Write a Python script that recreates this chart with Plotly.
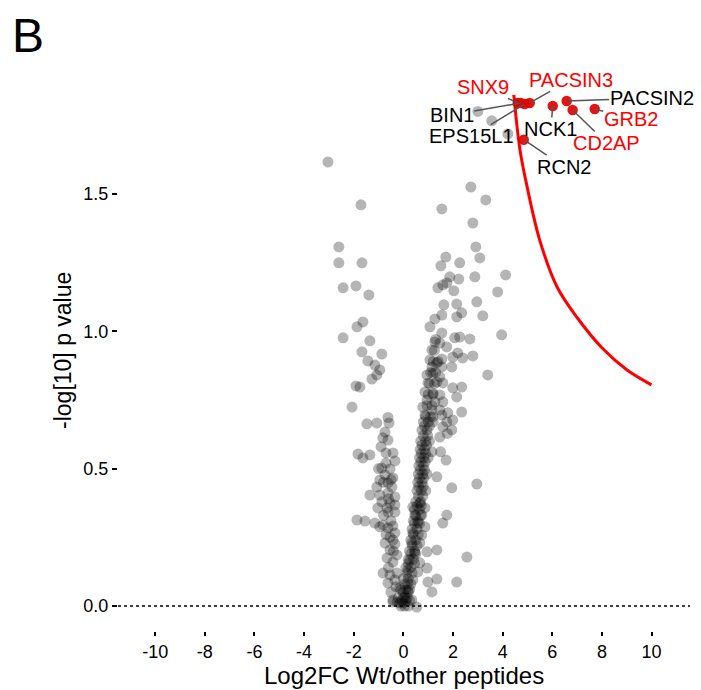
import plotly.graph_objects as go

# ---------------- data ----------------
# left cluster (upper part)
left_up_x = [-3.04, -1.71, -2.60, -2.60, -1.67, -2.43, -1.91, -1.39, -1.63, -1.87, -2.43, -1.35, -1.67, -0.87, -1.43, -1.15, -0.95, -1.07, -1.27, -1.91, -1.75]
left_up_y = [1.616, 1.46, 1.307, 1.249, 1.249, 1.158, 1.165, 1.132, 1.034, 1.016, 0.976, 0.965, 0.925, 0.917, 0.892, 0.877, 0.859, 0.841, 0.826, 0.801, 0.797]

# left cluster (middle)
left_mid_x = [-2.07, -0.62, -1.47, -1.07, -0.58, -0.74, -0.83, -0.62, -1.83, -1.35, -1.63, -0.70, -0.42, -0.34]
left_mid_y = [0.724, 0.686, 0.663, 0.666, 0.666, 0.633, 0.612, 0.604, 0.553, 0.550, 0.539, 0.557, 0.557, 0.528]

# left arm of the V (lower part)
left_low_x = [-0.87, -0.54, -0.74, -0.42, -0.95, -0.62, -1.07, -0.46, -1.35, -0.95, -0.62, -0.34, -0.87, -0.54, -1.03, -0.66, -0.34, -0.62, -0.34,
              -1.87, -1.55, -1.15, -0.95, -0.82, -0.62, -0.42, -0.34, -0.54, -0.42, -0.74, -0.34, -0.54, -0.66, -0.26, -0.42, -0.82, -0.54,
              -0.26, -0.62, -0.34, -0.42, -0.14, 0.54,
              -0.50, -0.30, -0.60, -0.40, -0.70, -0.50, -0.80, -0.60, -0.80, -0.50, -0.70, -1.00, -0.90]
left_low_y = [0.502, 0.499, 0.477, 0.466, 0.459, 0.448, 0.433, 0.433, 0.404, 0.404, 0.411, 0.397, 0.379, 0.375, 0.357, 0.357, 0.368, 0.342, 0.342,
              0.313, 0.309, 0.302, 0.288, 0.295, 0.284, 0.291, 0.266, 0.251, 0.240, 0.229, 0.226, 0.204, 0.175, 0.186, 0.160, 0.120, 0.113,
              0.120, 0.084, 0.095, 0.015, 0.011, -0.004,
              0.05, 0.07, 0.14, 0.20, 0.26, 0.31, 0.33, 0.39, 0.45, 0.46, 0.52, 0.50, 0.58]

# dense central band
band_x = [-0.10, 0.05, 0.20, -0.20, 0.00, 0.15, -0.10, 0.10, 0.25, 0.00, 0.20, 0.10, 0.30, 0.20, 0.40, 0.25, 0.45, 0.30, 0.50,
          0.35, 0.55, 0.40, 0.60, 0.45, 0.65, 0.50, 0.70, 0.55, 0.72, 0.90, 0.58, 0.75, 0.60, 0.78, 0.95, 0.62, 0.80, 0.65, 0.82, 1.00,
          0.68, 0.85, 0.70, 0.90, 1.05, 0.75, 0.95, 0.80, 1.00, 1.20,
          -0.05, 0.10, 0.25, 0.00, 0.20, 0.05, 0.30, 0.15, 0.35, 0.20, 0.45, 0.30, 0.50, 0.35, 0.55, 0.40, 0.60, 0.45, 0.65,
          0.50, 0.70, 0.55, 0.72, 0.60, 0.78, 0.62, 0.80, 0.65, 0.82, 0.68, 0.85, 0.70, 0.88, 0.72, 0.90, 0.75, 0.93, 0.80, 0.98,
          0.85, 1.05, 0.90, 1.10, 0.95, 1.15, 1.00, 1.20, 1.05, 1.25, 1.10, 1.30, 1.20, 1.40, 1.25, 1.30]
band_y = [0.00, 0.00, 0.00, 0.03, 0.03, 0.03, 0.06, 0.06, 0.06, 0.10, 0.10, 0.14, 0.14, 0.17, 0.17, 0.20, 0.20, 0.24, 0.24,
          0.28, 0.28, 0.31, 0.31, 0.35, 0.35, 0.38, 0.38, 0.42, 0.42, 0.42, 0.45, 0.45, 0.48, 0.48, 0.48, 0.51, 0.51, 0.54, 0.54, 0.54,
          0.57, 0.57, 0.60, 0.60, 0.60, 0.64, 0.64, 0.67, 0.67, 0.67,
          0.02, 0.02, 0.02, 0.05, 0.05, 0.08, 0.08, 0.12, 0.12, 0.155, 0.155, 0.19, 0.19, 0.22, 0.22, 0.26, 0.26, 0.30, 0.30,
          0.33, 0.33, 0.365, 0.365, 0.40, 0.40, 0.435, 0.435, 0.465, 0.465, 0.495, 0.495, 0.525, 0.525, 0.555, 0.555, 0.585, 0.585, 0.62, 0.62,
          0.655, 0.655, 0.69, 0.69, 0.73, 0.73, 0.77, 0.77, 0.81, 0.81, 0.85, 0.85, 0.89, 0.89, 0.93, 0.97]

# right arm of the V (lower part)
arm_x = [0.38, 0.66, 0.87, 0.46, 0.74, 0.58, 0.87, 0.38, 0.74, 0.34, 0.66, 0.46, 0.95, 0.26, 0.66, 0.18, 0.58, 0.95, 0.38, 0.18,
         -0.14, 0.18, 0.06, -0.02, -0.26, 0.34, -0.42]
arm_y = [0.360, 0.375, 0.357, 0.331, 0.331, 0.302, 0.288, 0.266, 0.258, 0.229, 0.229, 0.193, 0.197, 0.167, 0.157, 0.131, 0.124, 0.138, 0.095, 0.084,
         0.066, 0.058, 0.033, 0.011, 0.015, 0.022, 0.022]

# scattered points right of the band (lower part)
right_low_x = [1.75, 1.99, 1.95, 1.77, 1.50, 1.72, 1.35, 1.95, 2.96, 1.75, 1.59, 1.35, 2.56, 1.35, 0.99, 2.15, 1.15, 1.59, 1.47, 1.15]
right_low_y = [0.670, 0.677, 0.641, 0.628, 0.561, 0.531, 0.470, 0.430, 0.444, 0.331, 0.302, 0.204, 0.178, 0.098, 0.087, 0.087, 0.051, 0.652, 0.615, 0.561]

# middle part of the band and its right side
mid_x = [3.96, 1.55, 1.27, 1.47, 2.07, 2.27, 2.68, 1.75, 1.15, 2.19, 2.39, 2.80, 1.99, 1.55, 1.07, 1.35, 1.55, 1.15, 1.95, 3.40,
         0.95, 1.19, 1.47, 0.99, 1.35, 1.59, 1.99, 2.35, 2.15, 0.87, 1.19, 1.47, 0.95, 1.27, 1.59, 0.78, 1.15, 1.47, 0.87, 1.19,
         1.55, 1.79, 2.35]
mid_y = [0.987, 0.994, 0.961, 0.957, 0.976, 0.979, 0.972, 0.943, 0.932, 0.921, 0.903, 0.910, 0.906, 0.899, 0.896, 0.885, 0.870, 0.870, 0.870, 0.841,
         0.841, 0.848, 0.834, 0.812, 0.815, 0.812, 0.794, 0.797, 0.761, 0.779, 0.775, 0.768, 0.750, 0.743, 0.743, 0.724, 0.713, 0.713, 0.695, 0.688,
         0.695, 0.703, 0.706]

# upper right scatter
up_x = [2.72, 3.32, 1.55, 2.80, 2.92, 3.08, 1.71, 2.27, 1.51, 4.12, 2.88, 1.87, 2.23, 1.75, 1.59, 1.39, 2.03, 3.80, 2.96, 2.15,
        1.63, 2.35, 2.15, 3.20, 1.55, 1.27, 1.07, 3.00, 3.56, 4.21]
up_y = [1.525, 1.478, 1.445, 1.394, 1.307, 1.267, 1.270, 1.249, 1.238, 1.205, 1.198, 1.198, 1.190, 1.176, 1.169, 1.158, 1.147, 1.143, 1.107, 1.099,
        1.096, 1.067, 1.052, 1.056, 1.059, 1.045, 1.016, 1.800, 1.766, 1.718]

# highlighted hits
hit_names = ["SNX9", "BIN1", "EPS15L1", "PACSIN3", "NCK1", "PACSIN2", "CD2AP", "GRB2", "RCN2"]
hit_x = [4.61, 4.73, 4.89, 5.09, 6.02, 6.58, 6.82, 7.71, 4.85]
hit_y = [1.831, 1.831, 1.827, 1.831, 1.820, 1.838, 1.805, 1.809, 1.697]
hit_red_label = [True, False, False, True, False, False, True, True, False]

# threshold curve
curve_x = [4.45, 4.70, 5.00, 5.50, 6.20, 7.00, 8.00, 9.00, 10.00]
curve_y = [1.86, 1.66, 1.52, 1.33, 1.16, 1.05, 0.94, 0.86, 0.805]

x_ticks = [-10, -8, -6, -4, -2, 0, 2, 4, 6, 8, 10]
x_ticklabels = ["-10", "-8", "-6", "-4", "-2", "0", "2", "4", "6", "8", "10"]
y_ticks = [0.0, 0.5, 1.0, 1.5]
y_ticklabels = ["0.0", "0.5", "1.0", "1.5"]

# ---------------- figure ----------------
grey_x = left_up_x + left_mid_x + left_low_x + band_x + arm_x + right_low_x + mid_x + up_x
grey_y = left_up_y + left_mid_y + left_low_y + band_y + arm_y + right_low_y + mid_y + up_y

FONT = "Liberation Sans, Arial, Helvetica, sans-serif"

fig = go.Figure()
fig.add_shape(type="line", xref="paper", x0=0, x1=1, yref="y", y0=0, y1=0,
              line=dict(color="black", width=1.6, dash="dot"), layer="below")

fig.add_trace(go.Scatter(x=grey_x, y=grey_y, mode="markers",
                         marker=dict(size=11, color="rgba(0,0,0,0.29)", line=dict(width=0)),
                         hoverinfo="skip"))
fig.add_trace(go.Scatter(x=curve_x, y=curve_y, mode="lines",
                         line=dict(color="#ff0000", width=3, shape="spline"), hoverinfo="skip"))
fig.add_trace(go.Scatter(x=hit_x, y=hit_y, mode="markers",
                         marker=dict(size=10.5, color="rgba(225,0,0,0.92)", line=dict(width=0)),
                         hoverinfo="skip"))

offsets = {
    "SNX9": (-35, -16), "BIN1": (-69, 12), "EPS15L1": (-53, 32), "PACSIN3": (41, -23),
    "NCK1": (-2, 23), "PACSIN2": (85, -3), "CD2AP": (34, 33), "GRB2": (36, 10), "RCN2": (40, 27),
}
annotations = []
for name, x, y, red in zip(hit_names, hit_x, hit_y, hit_red_label):
    ax, ay = offsets[name]
    annotations.append(dict(x=x, y=y, xref="x", yref="y", text=name, showarrow=True,
                            arrowhead=0, arrowwidth=1.5, arrowcolor="#555555", ax=ax, ay=ay,
                            font=dict(size=20, color="#ff0000" if red else "black", family=FONT),
                            borderpad=0))

annotations.append(dict(text="Log2FC Wt/other peptides", xref="paper", yref="paper",
                        x=0.5, y=-0.0785, xanchor="center", yanchor="middle", showarrow=False,
                        font=dict(size=24, family=FONT, color="black")))
annotations.append(dict(text="-log[10] p value", xref="paper", yref="paper",
                        x=-0.0962, y=0.4965, xanchor="center", yanchor="middle", showarrow=False,
                        textangle=-90, font=dict(size=23, family=FONT, color="black")))
annotations.append(dict(text="B", xref="paper", yref="paper",
                        x=-0.157, y=1.053, xanchor="center", yanchor="middle", showarrow=False,
                        font=dict(size=48, family=FONT, color="black")))

fig.update_layout(
    width=701, height=690,
    margin=dict(l=118, r=11, t=65, b=59),
    plot_bgcolor="white", paper_bgcolor="white",
    showlegend=False,
    font=dict(family=FONT, color="black"),
    annotations=annotations,
)
fig.update_xaxes(range=[-11.5, 11.55], tickvals=x_ticks, ticktext=x_ticklabels,
                 ticks="outside", ticklen=4, tickwidth=1.5, tickcolor="black",
                 showgrid=False, zeroline=False, showline=False,
                 tickfont=dict(size=18, family=FONT, color="black"))
fig.update_yaxes(range=[-0.091, 1.969], tickvals=y_ticks, ticktext=y_ticklabels,
                 ticks="outside", ticklen=5, tickwidth=1.5, tickcolor="black",
                 showgrid=False, zeroline=False, showline=False,
                 tickfont=dict(size=18, family=FONT, color="black"))

fig.write_html("out.html")
